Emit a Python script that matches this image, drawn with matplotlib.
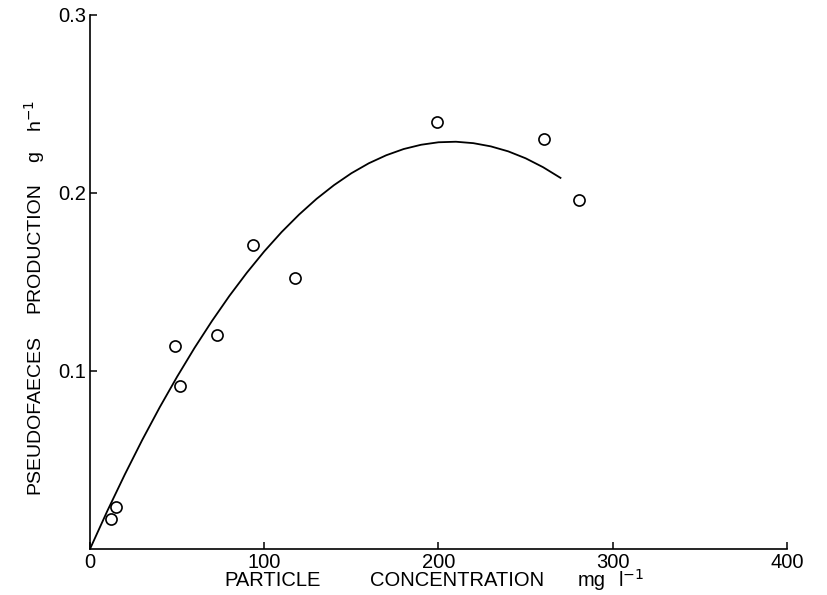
import matplotlib
matplotlib.use("Agg")
import matplotlib.pyplot as plt

plt.rcParams['font.family'] = ['Liberation Sans', 'DejaVu Sans']

# observed points
conc = [11.9, 15.1, 48.8, 51.7, 73.0, 93.5, 117.4, 199.4, 260.3, 280.4]
prod = [0.0167, 0.0238, 0.114, 0.0916, 0.120, 0.1706, 0.1524, 0.2399, 0.2302, 0.196]

# fitted curve
curve_x = [0, 10, 20, 30, 40, 50, 60, 70, 80, 90, 100, 110, 120, 130, 140,
           150, 160, 170, 180, 190, 200, 210, 220, 230, 240, 250, 260, 270]
curve_y = [0, 0.0215, 0.0419, 0.0613, 0.0796, 0.0968, 0.1130, 0.1281, 0.1422, 0.1552,
           0.1672, 0.1781, 0.1879, 0.1967, 0.2044, 0.2111, 0.2167, 0.2212, 0.2247, 0.2271,
           0.2285, 0.2288, 0.2280, 0.2262, 0.2234, 0.2195, 0.2145, 0.2085]

xticks = [0, 100, 200, 300, 400]
yticks = [0.1, 0.2, 0.3]
ytick_labels = ['0.1', '0.2', '0.3']
xlabel_words = ['PARTICLE', 'CONCENTRATION', 'mg', 'l$^{-1}$']
ylabel_words = ['PSEUDOFAECES', 'PRODUCTION', 'g', 'h$^{-1}$']

W, H = 827, 595
fig = plt.figure(figsize=(8.27, 5.95), dpi=100)
ax = fig.add_axes([90 / W, 1 - 549 / H, (787 - 90) / W, (549 - 15) / H])

ax.plot(curve_x, curve_y, color='black', lw=1.3)
ax.plot(conc, prod, 'o', mfc='white', mec='black', mew=1.2, ms=8, ls='none')

ax.set_xlim(0, 400)
ax.set_ylim(0, 0.3)
ax.spines['top'].set_visible(False)
ax.spines['right'].set_visible(False)
for s in ('left', 'bottom'):
    ax.spines[s].set_linewidth(1.2)

ax.set_xticks(xticks)
ax.set_xticklabels([str(t) for t in xticks])
ax.set_yticks(yticks)
ax.set_yticklabels(ytick_labels)
ax.tick_params(direction='in', length=5, width=1.1, labelsize=14.5, pad=3)

# x label words
x_pos = [273, 457, 592, 631]
for word, xp in zip(xlabel_words, x_pos):
    fig.text(xp / W, 1 - 580 / H, word, fontsize=14.5, ha='center', va='center')

# y label words
y_pos = [414, 248, 157, 116]
for word, yp in zip(ylabel_words, y_pos):
    fig.text(35 / W, 1 - yp / H, word, fontsize=14, rotation=90,
             ha='center', va='center')

fig.savefig('out.png', dpi=100)
